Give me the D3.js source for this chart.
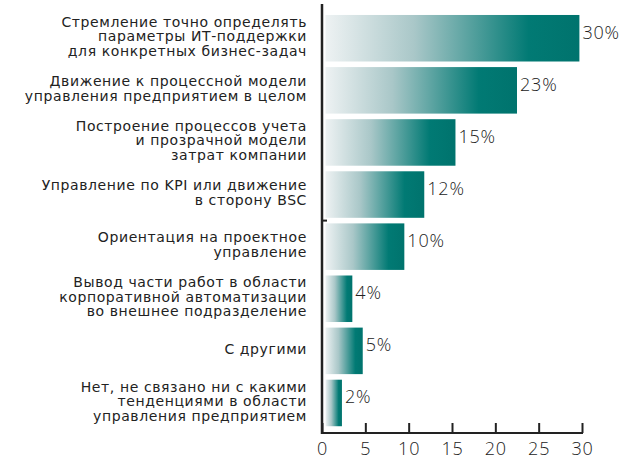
<!DOCTYPE html>
<html><head><meta charset="utf-8">
<script src="https://cdn.jsdelivr.net/npm/d3@7"></script>
<style>
html,body{margin:0;padding:0;background:#fff;}
svg{display:block;}
</style></head>
<body>
<svg id="chart" width="640" height="466"></svg>
<script>
const categories = [
  ["Стремление точно определять", "параметры ИТ-поддержки", "для конкретных бизнес-задач"],
  ["Движение к процессной модели", "управления предприятием в целом"],
  ["Построение процессов учета", "и прозрачной модели", "затрат компании"],
  ["Управление по KPI или движение", "в сторону BSC"],
  ["Ориентация на проектное", "управление"],
  ["Вывод части работ в области", "корпоративной автоматизации", "во внешнее подразделение"],
  ["С другими"],
  ["Нет, не связано ни с какими", "тенденциями в области", "управления предприятием"]
];
const barValues = [29.7, 22.5, 15.4, 11.8, 9.5, 3.5, 4.7, 2.3];
const valueLabels = ["30%", "23%", "15%", "12%", "10%", "4%", "5%", "2%"];
const xTicks = [0, 5, 10, 15, 20, 25, 30];

const svg = d3.select("#chart");
const ids = categories.map((c, i) => "c" + i);

const x = d3.scaleLinear().domain([0, 30]).range([322, 582]);
const y = d3.scaleBand().domain(ids).range([9.4, 431.8]).padding(0.107);

const defs = svg.append("defs");
const grad = defs.append("linearGradient").attr("id", "barGrad")
  .attr("x1", "0%").attr("x2", "100%").attr("y1", "0%").attr("y2", "0%");
grad.append("stop").attr("offset", "0%").attr("stop-color", "#eef2f3");
grad.append("stop").attr("offset", "35%").attr("stop-color", "#a9c7c8");
grad.append("stop").attr("offset", "80%").attr("stop-color", "#017a74");
grad.append("stop").attr("offset", "100%").attr("stop-color", "#00736d");

const numFont = "'Open Sans', sans-serif";
const labFont = "'DejaVu Sans', sans-serif";

// bars
svg.append("g").selectAll("rect").data(barValues).join("rect")
  .attr("x", x(0) + 3.5)
  .attr("y", (d, i) => y(ids[i]))
  .attr("width", d => x(d) - x(0) - 3.5)
  .attr("height", y.bandwidth())
  .attr("fill", "url(#barGrad)");

// value labels
svg.append("g").selectAll("text").data(barValues).join("text")
  .attr("x", d => x(d) + 3)
  .attr("y", (d, i) => y(ids[i]) + y.bandwidth() / 2 - 6)
  .attr("dy", "0.35em")
  .attr("font-family", numFont)
  .attr("font-weight", 350)
  .attr("font-size", 18)
  .attr("letter-spacing", 0.8)
  .attr("fill", "#222")
  .text((d, i) => valueLabels[i]);

// category labels
const lh = 14.5;
const lab = svg.append("g").attr("font-family", labFont)
  .attr("font-size", 14).attr("letter-spacing", 0.6)
  .attr("fill", "#222").attr("text-anchor", "end");
categories.forEach((lines, i) => {
  const cy = y(ids[i]) + y.bandwidth() / 2 - 2;
  const t = lab.append("text").attr("x", 307)
    .attr("y", cy - (lines.length - 1) * lh / 2);
  lines.forEach((s, j) => {
    t.append("tspan").attr("x", 307).attr("dy", j === 0 ? "0.36em" : lh).text(s);
  });
});

// axes
const xAxis = d3.axisBottom(x).tickValues(xTicks).tickSize(-10).tickPadding(8).tickFormat(d3.format("d"));
const gx = svg.append("g").attr("transform", "translate(0,433)").call(xAxis);
gx.select(".domain").remove();
gx.selectAll(".tick line").attr("stroke", "#222").attr("stroke-width", 2);
gx.selectAll(".tick text").attr("font-family", numFont).attr("font-weight", 350)
  .attr("font-size", 18).attr("letter-spacing", 0.8).attr("fill", "#222").attr("dy", "0.71em").attr("y", 9);
svg.append("line").attr("x1", x(0)).attr("x2", x(30) + 1).attr("y1", 433).attr("y2", 433)
  .attr("stroke", "#222").attr("stroke-width", 2);

svg.append("line").attr("x1", x(0)).attr("x2", x(0)).attr("y1", 4).attr("y2", 434)
  .attr("stroke", "#222").attr("stroke-width", 2.5);
// small tick on category axis between 4th and 5th bars
const yb = (y(ids[3]) + y.bandwidth() + y(ids[4])) / 2;
svg.append("line").attr("x1", x(0)).attr("x2", x(0) + 5).attr("y1", yb).attr("y2", yb)
  .attr("stroke", "#222").attr("stroke-width", 2);
</script>
</body></html>
